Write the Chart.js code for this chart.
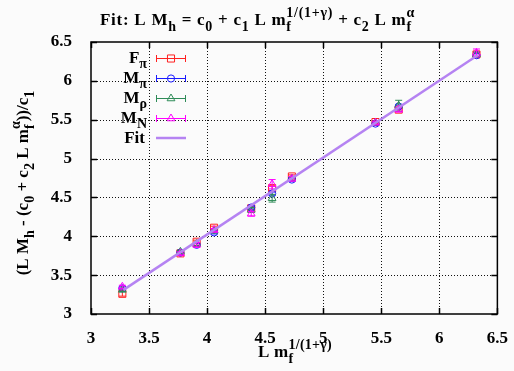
<!DOCTYPE html>
<html><head><meta charset="utf-8">
<script src="https://cdn.jsdelivr.net/npm/chart.js@4/dist/chart.umd.min.js"></script>
<style>html,body{margin:0;padding:0;background:#fbfbfb;}canvas{display:block;}</style>
</head><body>
<canvas id="c" width="514" height="371"></canvas>
<script>
// ---- data ----
const xVals   = [3.27, 3.77, 3.91, 4.06, 4.38, 4.56, 4.73, 5.45, 5.65, 6.32];
const fPi     = [3.26, 3.78, 3.93, 4.11, 4.36, 4.62, 4.77, 5.47, 5.63, 6.34];
const fPiErr  = [0.03, 0.02, 0.02, 0.02, 0.02, 0.03, 0.02, 0.02, 0.02, 0.03];
const mPi     = [3.33, 3.79, 3.89, 4.05, 4.37, 4.55, 4.73, 5.45, 5.67, 6.33];
const mPiErr  = [0.02, 0.02, 0.02, 0.02, 0.02, 0.02, 0.02, 0.02, 0.02, 0.02];
const mRho    = [3.31, 3.80, 3.90, 4.07, 4.34, 4.49, 4.74, 5.46, 5.68, 6.34];
const mRhoErr = [0.02, 0.02, 0.02, 0.02, 0.03, 0.05, 0.02, 0.02, 0.07, 0.03];
const mN      = [3.35, 3.78, 3.89, 4.08, 4.29, 4.67, 4.74, 5.46, 5.63, 6.36];
const mNErr   = [0.02, 0.02, 0.03, 0.02, 0.03, 0.06, 0.03, 0.02, 0.03, 0.05];
const fitX    = [3.28, 6.33];
const fitY    = [3.31, 6.33];
const xTickLabels = ['3','3.5','4','4.5','5','5.5','6','6.5'];
const yTickLabels = ['3','3.5','4','4.5','5','5.5','6','6.5'];

const FONT = '"Liberation Serif","Times New Roman",serif';
const pts = (ys, errs) => xVals.map((x, i) => ({x: x, y: ys[i], e: errs[i]}));

// rich text: segments [text, mode] mode: 'n','sub','sup', or ['ss', sub, sup]
function drawRich(ctx, segs, x, y, align, size, target) {
  const big = 'bold ' + size + 'px ' + FONT;
  const small = 'bold ' + Math.round(size * 0.8) + 'px ' + FONT;
  ctx.letterSpacing = '0px';
  const measure = (t, f) => { ctx.font = f; return ctx.measureText(t).width; };
  const items = [];
  let total = 0, n = 0;
  for (const s of segs) {
    if (s[1] === 'n') items.push({parts: [[s[0], big, 0]], w: measure(s[0], big), n: s[0].length});
    else if (s[0] === 'ss') items.push({parts: [[s[1], small, 1], [s[2], small, 2]],
      w: Math.max(measure(s[1], small), measure(s[2], small)), n: Math.max(s[1].length, s[2].length)});
    else items.push({parts: [[s[0], small, s[1] === 'sub' ? 1 : 2]], w: measure(s[0], small), n: s[0].length});
  }
  items.forEach(it => { total += it.w; n += it.n; });
  let sp = 0;
  if (target) { sp = Math.max(0, (target - total) / n); total += sp * n; }
  let cx = align === 'center' ? x - total / 2 : align === 'right' ? x - total : x;
  ctx.textBaseline = 'alphabetic'; ctx.textAlign = 'left';
  const dy = [0, size * 0.33, -size * 0.45];
  ctx.letterSpacing = sp.toFixed(2) + 'px';
  for (const it of items) {
    for (const p of it.parts) { ctx.font = p[1]; ctx.fillText(p[0], cx, y + dy[p[2]]); }
    cx += it.w + sp * it.n;
  }
  ctx.letterSpacing = '0px';
}

const titleSegs = [['Fit: L M','n'],['h','sub'],[' = c','n'],['0','sub'],[' + c','n'],['1','sub'],[' L m','n'],['ss','f','1/(1+\u03b3)'],[' + c','n'],['2','sub'],[' L m','n'],['ss','f','\u03b1']];
const xLabelSegs = [['L m','n'],['ss','f','1/(1+\u03b3)']];
const yLabelSegs = [['(L M','n'],['h','sub'],[' - (c','n'],['0','sub'],[' + c','n'],['2','sub'],[' L m','n'],['ss','f','\u03b1'],['))/c','n'],['1','sub']];

const series = [
  {label: [['F','n'],['\u03c0','sub']], color: '#ff2020', style: 'rect', r: 5},
  {label: [['M','n'],['\u03c0','sub']], color: '#1a1aff', style: 'circle', r: 3.6},
  {label: [['M','n'],['\u03c1','sub']], color: '#2e8b57', style: 'triangle', r: 4.5},
  {label: [['M','n'],['N','sub']], color: '#ff00ff', style: 'triangle', r: 4.5},
];
const fitColor = '#b583f2';
const FS = 17;

const frame = {
  id: 'frame',
  beforeDatasetsDraw(chart) {
    const {ctx, chartArea: a, scales: {x, y}} = chart;
    ctx.save();
    ctx.strokeStyle = '#111'; ctx.lineWidth = 1; ctx.setLineDash([1, 2]);
    x.ticks.forEach(t => { if (t.value > 3 && t.value < 6.5) { const px = Math.round(x.getPixelForValue(t.value)) + 0.5; ctx.beginPath(); ctx.moveTo(px, a.top); ctx.lineTo(px, a.bottom); ctx.stroke(); } });
    y.ticks.forEach(t => { if (t.value > 3 && t.value < 6.5) { const py = Math.round(y.getPixelForValue(t.value)) + 0.5; ctx.beginPath(); ctx.moveTo(a.left, py); ctx.lineTo(a.right, py); ctx.stroke(); } });
    ctx.setLineDash([]); ctx.lineWidth = 1.5; ctx.strokeStyle = '#000';
    const tl = 6;
    x.ticks.forEach(t => { const px = Math.round(x.getPixelForValue(t.value)) + 0.5; ctx.beginPath(); ctx.moveTo(px, a.bottom); ctx.lineTo(px, a.bottom - tl); ctx.moveTo(px, a.top); ctx.lineTo(px, a.top + tl); ctx.stroke(); });
    y.ticks.forEach(t => { const py = Math.round(y.getPixelForValue(t.value)) + 0.5; ctx.beginPath(); ctx.moveTo(a.left, py); ctx.lineTo(a.left + tl, py); ctx.moveTo(a.right, py); ctx.lineTo(a.right - tl, py); ctx.stroke(); });
    ctx.strokeRect(a.left, a.top, a.right - a.left, a.bottom - a.top);
    ctx.restore();
  },
  afterDatasetDraw(chart, args) {
    const ds = chart.data.datasets[args.index];
    if (!ds.errBars) return;
    const {ctx, scales: {x, y}} = chart;
    ctx.save(); ctx.strokeStyle = ds.borderColor; ctx.lineWidth = 1;
    ds.data.forEach(p => {
      const px = x.getPixelForValue(p.x), y1 = y.getPixelForValue(p.y - p.e), y2 = y.getPixelForValue(p.y + p.e);
      ctx.beginPath(); ctx.moveTo(px, y1); ctx.lineTo(px, y2);
      ctx.moveTo(px - 3.5, y1); ctx.lineTo(px + 3.5, y1); ctx.moveTo(px - 3.5, y2); ctx.lineTo(px + 3.5, y2); ctx.stroke();
    });
    ctx.restore();
  },
  afterDraw(chart) {
    const {ctx} = chart;
    ctx.save(); ctx.fillStyle = '#000';
    drawRich(ctx, titleSegs, 257.5, 25, 'center', FS, 315);
    drawRich(ctx, xLabelSegs, 295, 357, 'center', FS, 74);
    ctx.translate(28, 183); ctx.rotate(-Math.PI / 2);
    drawRich(ctx, yLabelSegs, 0, 0, 'center', FS, 179);
    ctx.restore();
    // legend
    ctx.save();
    const rows = [58, 78, 98, 118, 138];
    series.forEach((s, i) => {
      const cy = rows[i];
      ctx.fillStyle = '#000';
      drawRich(ctx, s.label, 147, cy + 4.5, 'right', FS);
      ctx.strokeStyle = s.color; ctx.lineWidth = 1;
      ctx.beginPath(); ctx.moveTo(156, cy + 0.5); ctx.lineTo(186, cy + 0.5);
      ctx.moveTo(156.5, cy - 3); ctx.lineTo(156.5, cy + 4); ctx.moveTo(185.5, cy - 3); ctx.lineTo(185.5, cy + 4); ctx.stroke();
      ctx.fillStyle = 'rgba(0,0,0,0)';
      Chart.helpers.drawPoint(ctx, {pointStyle: s.style, radius: s.r, rotation: 0, borderWidth: 1}, 171, cy + 0.5);
    });
    ctx.fillStyle = '#000';
    drawRich(ctx, [['Fit','n']], 145, rows[4] + 4.5, 'right', FS);
    ctx.strokeStyle = fitColor; ctx.lineWidth = 2.5;
    ctx.beginPath(); ctx.moveTo(156, rows[4]); ctx.lineTo(186, rows[4]); ctx.stroke();
    ctx.restore();
  }
};

const datasets = [
  {data: pts(fPi, fPiErr)}, {data: pts(mPi, mPiErr)}, {data: pts(mRho, mRhoErr)}, {data: pts(mN, mNErr)}
].map((d, i) => Object.assign(d, {
  type: 'scatter', errBars: true, pointStyle: series[i].style, pointRadius: series[i].r,
  borderColor: series[i].color, backgroundColor: 'rgba(0,0,0,0)', pointBorderWidth: 1, order: 10 - i
}));
datasets.push({
  type: 'line', data: fitX.map((x, i) => ({x: x, y: fitY[i]})), borderColor: fitColor,
  borderWidth: 2.5, pointRadius: 0, fill: false, order: 0
});

new Chart(document.getElementById('c'), {
  type: 'scatter',
  data: {datasets},
  options: {
    responsive: false, animation: false, events: [],
    layout: {padding: {top: 42, right: 16, left: 0, bottom: 0}},
    plugins: {legend: {display: false}, tooltip: {enabled: false}, title: {display: false}},
    scales: {
      x: {type: 'linear', min: 3, max: 6.5,
        afterFit: s => { s.height = 57; },
        grid: {display: false}, border: {display: false},
        ticks: {stepSize: 0.5, autoSkip: false, maxRotation: 0, padding: 6, color: '#000',
          font: {family: FONT, size: 17, weight: 'bold'},
          callback: (v, i) => xTickLabels[i]}},
      y: {type: 'linear', min: 3, max: 6.5,
        afterFit: s => { s.width = 91; },
        grid: {display: false}, border: {display: false},
        ticks: {stepSize: 0.5, autoSkip: false, padding: 11, color: '#000',
          font: {family: FONT, size: 17, weight: 'bold'},
          callback: (v, i) => yTickLabels[i]}}
    }
  },
  plugins: [frame]
});
</script>
</body></html>
